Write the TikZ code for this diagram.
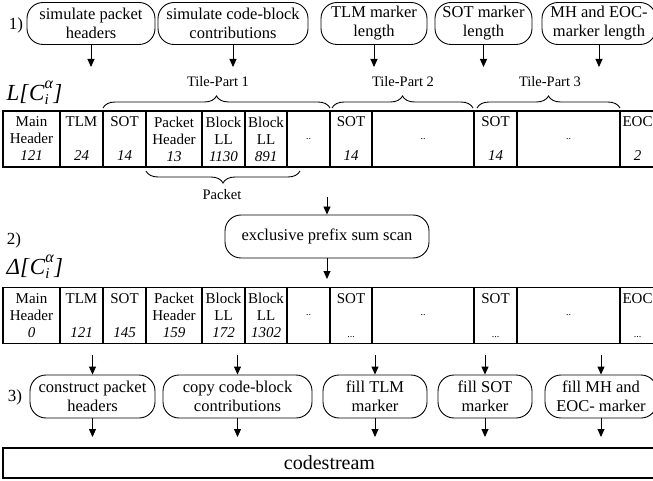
\documentclass[tikz,border=0pt]{standalone}
\usepackage{fontspec}
\setmainfont{Liberation Serif}
\usetikzlibrary{arrows.meta,decorations.pathreplacing}
\newcommand\mycell[5]{\node[cell, minimum width={(#3-#2)*1pt}] (#1) at ({(#2+#3)/2},#4) {#5};}
\newcommand\sdots[1]{{\fontsize{10}{10}\selectfont #1}}
\newcommand\cia{\textit{C}\rlap{\raisebox{-4pt}{\fontsize{15}{15}\selectfont\textit{i}}}\raisebox{12pt}{\fontsize{16}{16}\selectfont\textit{α}}\textit{]}}
\begin{document}
\begin{tikzpicture}[x=1pt,y=-1pt,
 proc/.style={draw, line width=0.9pt, rounded corners=16pt, minimum height=42pt, align=center, inner sep=1pt, font=\fontsize{16.5}{19}\selectfont},
 cell/.style={draw, line width=1.1pt, minimum height=56pt, inner sep=0pt, align=center, font=\fontsize{15}{17}\selectfont},
 arr/.style={line width=0.9pt, -{Triangle[length=8pt,width=7pt]}},
 br/.style={decorate, decoration={brace, amplitude=12pt}, line width=0.9pt},
 lab/.style={font=\fontsize{14.5}{16}\selectfont},
 num/.style={font=\fontsize{17}{19}\selectfont}]
\useasboundingbox (0,0) rectangle (653,481);

% step 1
\node[num] (n1) at (16,25) {1)};
\node[proc, minimum width=128pt] (b1) at (91,23.5) {simulate packet\\headers};
\node[proc, minimum width=150pt] (b2) at (233,23.5) {simulate code-block\\contributions};
\node[proc, minimum width=106pt] (b3) at (374,23.5) {TLM marker\\length};
\node[proc, minimum width=97pt] (b4) at (483.5,23.5) {SOT marker\\length};
\node[proc, minimum width=114pt] (b5) at (599,23.5) {MH and EOC-\\marker length};
\coordinate (e1) at (0,67);
\foreach \b in {b1,b2,b3,b4,b5} \draw[arr] (\b) -- (\b |- e1);

\node[anchor=west, font=\fontsize{23}{23}\selectfont] (Llab) at (3,93) {\textit{L[}\cia};

% braces
\draw[br] (103,108) -- (330,108);
\draw[br] (332,108) -- (473,108);
\draw[br] (477,108) -- (620,108);
\node[lab] (tp1) at (218,82) {Tile-Part 1};
\node[lab] (tp2) at (403,82) {Tile-Part 2};
\node[lab] (tp3) at (550,82) {Tile-Part 3};

% table 1
\mycell{a1}{3}{60}{139}{Main\\Header\\\textit{121}}
\mycell{a2}{60}{103}{139}{TLM\\\mbox{}\\\textit{24}}
\mycell{a3}{103}{146}{139}{SOT\\\mbox{}\\\textit{14}}
\mycell{a4}{146}{202}{139}{Packet\\Header\\\textit{13}}
\mycell{a5}{202}{245}{139}{Block\\LL\\\textit{1130}}
\mycell{a6}{245}{287}{139}{Block\\LL\\\textit{891}}
\mycell{a7}{287}{330}{139}{\sdots{..}}
\mycell{a8}{330}{372}{139}{SOT\\\mbox{}\\\textit{14}}
\mycell{a9}{372}{474}{139}{\sdots{..}}
\mycell{a10}{474}{517}{139}{SOT\\\mbox{}\\\textit{14}}
\mycell{a11}{517}{620}{139}{\sdots{..}}
\mycell{a12}{620}{655}{139}{EOC\\\mbox{}\\\textit{2}}

\draw[br] (300,171) -- (146,171);
\node[lab] (pk) at (222,195) {Packet};

% step 2
\node[num] (n2) at (14,240) {2)};
\node[anchor=west, font=\fontsize{23}{23}\selectfont] (Dlab) at (3,267) {\textit{Δ[}\cia};
\node[proc, minimum width=204pt, minimum height=43pt] (pre) at (327,236.5) {exclusive prefix sum scan};
\coordinate (ps) at (327,197);
\coordinate (pe) at (327,279);
\draw[arr] (ps) -- (pre);
\draw[arr] (pre) -- (pe);

% table 2
\mycell{c1}{3}{60}{315.5}{Main\\Header\\\textit{0}}
\mycell{c2}{60}{103}{315.5}{TLM\\\mbox{}\\\textit{121}}
\mycell{c3}{103}{146}{315.5}{SOT\\\mbox{}\\\textit{145}}
\mycell{c4}{146}{202}{315.5}{Packet\\Header\\\textit{159}}
\mycell{c5}{202}{245}{315.5}{Block\\LL\\\textit{172}}
\mycell{c6}{245}{287}{315.5}{Block\\LL\\\textit{1302}}
\mycell{c7}{287}{330}{315.5}{\sdots{..}}
\mycell{c8}{330}{372}{315.5}{SOT\\\mbox{}\\\sdots{...}}
\mycell{c9}{372}{474}{315.5}{\sdots{..}}
\mycell{c10}{474}{517}{315.5}{SOT\\\mbox{}\\\sdots{...}}
\mycell{c11}{517}{620}{315.5}{\sdots{..}}
\mycell{c12}{620}{655}{315.5}{EOC\\\mbox{}\\\sdots{...}}

% step 3
\node[num] (n3) at (15,397) {3)};
\node[proc, minimum width=125pt, minimum height=43pt] (d1) at (92.5,396.5) {construct packet\\headers};
\node[proc, minimum width=149pt, minimum height=43pt] (d2) at (237.5,396.5) {copy code-block\\contributions};
\node[proc, minimum width=104pt, minimum height=43pt] (d3) at (375,396.5) {fill TLM\\marker};
\node[proc, minimum width=94pt, minimum height=43pt] (d4) at (485,396.5) {fill SOT\\marker};
\node[proc, minimum width=112pt, minimum height=43pt] (d5) at (601,396.5) {fill MH and\\EOC- marker};
\coordinate (s3) at (0,355);
\coordinate (e3) at (0,437);
\foreach \d in {d1,d2,d3,d4,d5} {
  \draw[arr] (\d |- s3) -- (\d);
  \draw[arr] (\d) -- (\d |- e3);
}

\node[draw, line width=1.1pt, minimum width=653pt, minimum height=30pt, inner sep=0pt, font=\fontsize{20}{24}\selectfont] (cs) at (329.5,463) {codestream};
\end{tikzpicture}
\end{document}
